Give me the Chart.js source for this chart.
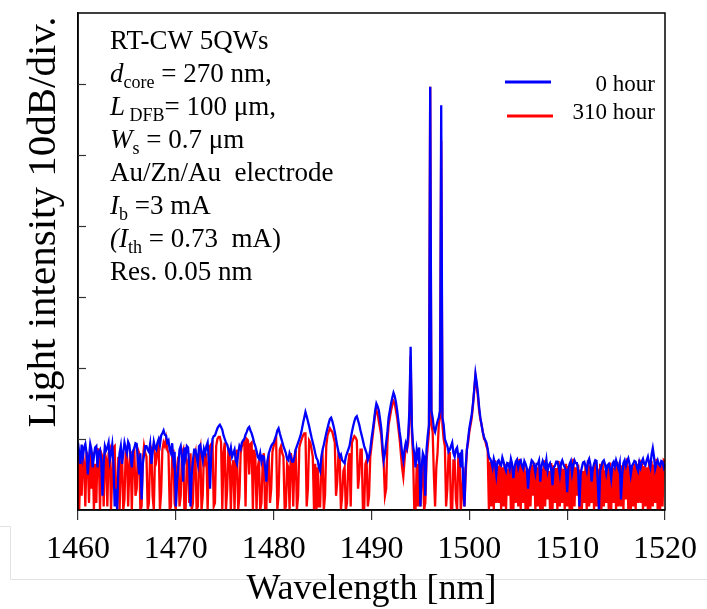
<!DOCTYPE html>
<html>
<head>
<meta charset="utf-8">
<script src="https://cdn.jsdelivr.net/npm/chart.js@4.4.1/dist/chart.umd.min.js"></script>
<style>
  html, body { margin: 0; padding: 0; background: #fff; }
  #wrap { width: 707px; height: 609px; }
</style>
</head>
<body>
<div id="wrap"><canvas id="grafico"></canvas></div>
<script>
/* --------------- datos del espectro (dB, rejilla de 0.125 nm) --------------- */

const WL_START = 1460;
const WL_STEP = 0.125;

// 0 hour  (8 muestras por nm)
const HOUR_0 = [
  9.5, 8, 6.5, 9.2, 7.5, 8.8, 9.3, 8,          // 1460
  5, 7.5, 9.3, 8.5, 6, 7.5, 8.8, 9,            // 1461
  6, 8.2, 8.5, 7, 2, 6.5, 9, 8.4,              // 1462
  8.8, 9.5, 7, 8, 9.2, 6.5, 0.5, 3,            // 1463
  0, 5.5, 8, 9, 6.5, 8, 9.5, 8.7,              // 1464
  8, 9.6, 9.2, 7.5, 6, 8.3, 8.7, 9.4,          // 1465
  9.3, 7, 5, 8, 1.5, 6.5, 7.8, 9,              // 1466
  9, 8.5, 8.2, 9.3, 6.5, 8, 9.6, 8.8,          // 1467
  8.5, 9.5, 10, 9.2, 10.5, 10.8, 11.2, 10.6,   // 1468
  10.5, 9.5, 9.8, 8.5, 8, 9.4, 7, 8.2,         // 1469
  0.5, 4, 6, 8.5, 9, 7.5, 4, 8.8,              // 1470
  7.5, 9, 8.8, 6, 0.5, 5, 7, 8.5,              // 1471
  8.5, 7.5, 6.5, 9, 9.2, 8, 7, 8.6,            // 1472
  8, 9, 9.5, 7, 3, 8, 10, 10.4,                // 1473
  10.5, 11, 11.5, 11.8, 12, 11.7, 11.3, 10.5,  // 1474
  10, 9.5, 9.2, 8.5, 8, 8.8, 7.5, 8,           // 1475
  8.5, 7, 6.5, 8, 9, 8.6, 9.5, 9.8,            // 1476
  10, 10.6, 11, 11.5, 11.7, 11.2, 10.8, 10.2,  // 1477
  9.5, 9, 8.3, 7.5, 7.2, 8, 6.8, 7.6,          // 1478
  7.5, 6, 4, 7, 8, 8.5, 9, 9.3,                // 1479
  9.5, 10, 10.5, 11.2, 11.5, 10.8, 10.2, 9.6,  // 1480
  9, 8.5, 8, 7.2, 7, 8, 7.5, 6.8,              // 1481
  6.8, 7.5, 8.5, 9, 9.5, 10, 10.5, 11.3,       // 1482
  12.2, 13, 13.8, 13.2, 12.5, 11.8, 11, 10.2,  // 1483
  9.5, 8.8, 8, 7.3, 7, 6, 5.5, 7.5,            // 1484
  8.5, 9.2, 10, 10.8, 11.5, 12.2, 12.8, 13,    // 1485
  12.5, 11.8, 11, 10, 9, 8.2, 7.5, 7.8,        // 1486
  7, 6.8, 6.6, 7.5, 8, 8.5, 9, 10,             // 1487
  11, 11.8, 12.5, 13, 13.2, 12.6, 12, 11.2,    // 1488
  10.5, 9.8, 9, 8.5, 8, 7, 7.5, 8.5,           // 1489
  10, 11.2, 12.5, 14, 15, 14.6, 14, 12.8,      // 1490
  11.5, 9, 7, 8, 9.5, 11, 13, 14,              // 1491
  15, 15.8, 16.5, 16, 15.2, 14, 12.5, 11,      // 1492
  9.8, 8, 7, 8.5, 9.4, 8.8, 10.5, 14,          // 1493
  23, 12, 9, 8, 6, 8.5, 7.5, 8.8,              // 1494
  0.5, 6, 8, 7.5, 2, 8.5, 10.5, 12,            // 1495
  59.6, 14, 13, 11.5, 11, 11.8, 12.5, 13,      // 1496
  14, 57, 13, 12, 10, 9.5, 9, 8.2,             // 1497
  8.5, 9, 9.5, 8, 7.5, 8.5, 8.8, 7.6,          // 1498
  7.8, 6, 8.5, 4, 0.5, 6, 8.5, 10,             // 1499
  11.5, 12.5, 13.5, 15, 17, 19.2, 18, 16.5,    // 1500
  14.5, 13, 12, 11, 10.3, 9.8, 9.5, 8.6,       // 1501
  7.5, 7.2, 6.8, 6, 7.2, 6.5, 5, 6.8,          // 1502
  7, 6.5, 6.3, 7.4, 6.8, 6, 5.5, 6.6,          // 1503
  6.5, 5.8, 7.2, 6.5, 4.5, 6, 6.8, 7.1,        // 1504
  6, 6.8, 7, 6.2, 5.8, 6.9, 6.5, 5.9,          // 1505
  3, 5.5, 6.2, 7, 6.8, 6.3, 5.2, 6.5,          // 1506
  6.5, 7, 4, 6.2, 6.9, 6.4, 6, 7.1,            // 1507
  5.5, 6.3, 6.6, 5.8, 3.5, 6, 6.2, 6.8,        // 1508
  6.8, 6.2, 5, 6.6, 7, 6.4, 6, 5.6,            // 1509
  2.5, 5.8, 6.5, 6.9, 5.2, 6.3, 7, 6.6,        // 1510
  6.6, 5.5, 0.5, 5, 6, 6.7, 6.8, 6.2,          // 1511
  5.5, 6.8, 7.2, 6.4, 4, 5.8, 6.5, 7,          // 1512
  6.9, 4, 0, 5.5, 6.2, 6.8, 7, 6.4,            // 1513
  5.2, 6.3, 6.5, 5.8, 4.5, 6.5, 6.8, 6.1,      // 1514
  7, 6.4, 5.8, 6.6, 1.5, 5, 6.6, 7,            // 1515
  6.2, 6.9, 7.3, 6.5, 5, 6.2, 6.5, 6.9,        // 1516
  6.8, 6, 5.5, 6.7, 6, 6.8, 7.2, 6.5,          // 1517
  6.3, 7, 7.5, 6.6, 6, 7.8, 8.7, 7.5,          // 1518
  5.8, 6.5, 7, 6.4, 6.2, 6.9, 6.8, 6,          // 1519
  6.5                                          // 1520
];

// 310 hour  (8 muestras por nm)
const HOUR_310 = [
  8.5, 0, 7, 2, 8, 6.5, 0.5, 8.2,              // 1460
  7, 1, 8.5, 3, 8.2, 0, 6.5, 1,                // 1461
  8.7, 7.5, 0, 8, 7.5, 0.5, 8, 7.2,            // 1462
  0.5, 8, 8.5, 0, 5, 8.8, 9, 1,                // 1463
  2, 7.5, 0, 6, 8.2, 0, 1.5, 8,                // 1464
  8.5, 0.5, 6, 8.3, 0, 7, 8.8, 2,              // 1465
  3, 8.5, 8, 0, 0.5, 7, 9, 8,                  // 1466
  7.5, 0, 1, 8, 8.5, 2, 0, 7.8,                // 1467
  7, 8.5, 9.2, 0, 2.5, 8.5, 9.5, 9,            // 1468
  10, 8.5, 8, 0, 0.5, 7.5, 8.5, 1,             // 1469
  0, 6, 7.5, 0.5, 2, 8, 8.5, 0,                // 1470
  0, 7, 6.5, 1, 8, 0, 1, 7.2,                  // 1471
  8, 0, 0.5, 7.8, 8.7, 0, 2, 8.3,              // 1472
  7, 8, 0, 6.5, 9, 9.3, 9.5, 0.5,              // 1473
  1, 9, 10, 10.3, 10.3, 9.5, 0, 8,             // 1474
  9.5, 0, 3, 8.5, 8, 0, 6, 7,                  // 1475
  0, 7.5, 8.5, 0, 2, 8, 9, 9.3,                // 1476
  9.8, 0.5, 10, 9.8, 5, 9.3, 9.5, 0,           // 1477
  8.5, 7.5, 0, 6, 7, 0, 1, 6.5,                // 1478
  8, 0, 0, 6.8, 7.5, 1, 3, 8.2,                // 1479
  9, 9.8, 10.2, 0, 2, 8.5, 9, 8,               // 1480
  7.5, 0, 0.5, 6.5, 6, 0, 8, 7,                // 1481
  0.5, 7, 8.5, 0, 2, 8.8, 9.5, 10,             // 1482
  10.5, 10.8, 10.8, 0.5, 3, 9.8, 9.5, 8.5,     // 1483
  7.5, 0, 6.5, 0, 6, 0.5, 0.5, 6.8,            // 1484
  7.5, 0, 2, 9, 10.5, 11, 11.5, 11.2,          // 1485
  11, 10.2, 9.5, 2, 4, 8, 7.5, 0,              // 1486
  2, 5.5, 6, 0, 1, 6.5, 8, 0.5,                // 1487
  9.5, 10, 10.4, 10.2, 9.8, 3, 5, 8.5,         // 1488
  8.5, 0, 0, 6.5, 7, 0.5, 2, 7.5,              // 1489
  9, 10.5, 12, 13.5, 14, 13.5, 12.5, 11.5,     // 1490
  10.5, 8, 6.5, 2, 3, 9.5, 12, 13,             // 1491
  14, 14.8, 15.3, 15, 14, 13, 11.5, 10,        // 1492
  8, 6, 4.7, 7, 9, 8.5, 9.5, 13,               // 1493
  21.6, 11, 7.5, 0, 0, 6.5, 0.5, 7.5,          // 1494
  0.5, 5.5, 6, 0, 1, 7, 9, 11,                 // 1495
  59.6, 12, 11, 5, 0.5, 6, 8, 12,              // 1496
  13, 52, 12, 10, 9, 0.5, 3, 8,                // 1497
  8, 0, 0, 7, 7, 1.5, 0, 7.5,                  // 1498
  7.5, 0, 2, 6, 0.5, 5, 8.5, 9.5,              // 1499
  11, 12, 13, 14.8, 16.8, 18.8, 17.5, 16,      // 1500
  14, 12.8, 12, 11, 10, 9.8, 9, 8.5,           // 1501
  0, 6.8, 0.5, 6.5, 0, 7, 1, 6.2,              // 1502
  1, 6.5, 0, 6, 0.5, 6.5, 0, 5.8,              // 1503
  2, 6.8, 0, 6.3, 0, 6, 1, 6.6,                // 1504
  0.5, 7.2, 0, 6.5, 1, 6.2, 0, 5.5,            // 1505
  0, 5.8, 0.5, 6.4, 2, 6.7, 0, 6,              // 1506
  0.5, 6.5, 0, 5.8, 0, 7, 0.5, 6.2,            // 1507
  1.5, 5.5, 0, 6.6, 0, 6.3, 1, 5.9,            // 1508
  0, 6.9, 0.5, 6, 1, 5.8, 0, 6.5,              // 1509
  0.5, 6.2, 0, 6.8, 0, 7.2, 0.5, 6,            // 1510
  2, 6.4, 0, 5.7, 0, 5.5, 1, 6.3,              // 1511
  0, 7, 0.5, 6.2, 1, 6, 0, 6.6,                // 1512
  0.5, 5.8, 0, 6.5, 0, 6.8, 0.5, 5.6,          // 1513
  1, 6.2, 0, 6.7, 0, 5.9, 1, 6.4,              // 1514
  0, 6.8, 0.5, 6, 0.5, 6.3, 0, 6.9,            // 1515
  1.5, 7.3, 0, 6.2, 0, 6, 0.5, 6.5,            // 1516
  0, 6.5, 1, 7.1, 1, 7, 0, 6.2,                // 1517
  0.5, 6, 0, 6.6, 0, 6.9, 0.5, 6.4,            // 1518
  1, 7.2, 0, 6.3, 0, 6.5, 0.5, 7,              // 1519
  6.8                                          // 1520
];

const SERIES_LABELS = ['0 hour', '310 hour'];
const X_TICKS = [1460, 1470, 1480, 1490, 1500, 1510, 1520];
const Y_TICKS = [10, 20, 30, 40, 50, 60];   // 10 dB/div, sin etiquetas
const Y_TITLE = 'Light intensity 10dB/div.';

// texto de condiciones: [texto, estilo] n = normal, i = cursiva, s = subindice
const NOTE_LINES = [
  [['RT-CW 5QWs', 'n']],
  [['d', 'i'], ['core', 's'], [' = 270 nm,', 'n']],
  [['L', 'i'], [' DFB', 's'], ['= 100 \u03bcm,', 'n']],
  [['W', 'i'], ['s', 's'], [' = 0.7 \u03bcm', 'n']],
  [['Au/Zn/Au  electrode', 'n']],
  [['I', 'i'], ['b', 's'], [' =3 mA', 'n']],
  [['(', 'i'], ['I', 'i'], ['th', 's'], [' = 0.73  mA)', 'n']],
  [['Res. 0.05 nm', 'n']]
];

const SERIF = '"Liberation Serif", "Times New Roman", serif';

/* --------------- configuracion del grafico --------------- */

document.addEventListener('DOMContentLoaded', () => {

    const toPoints = (arr) => arr.map((v, i) => ({ x: WL_START + i * WL_STEP, y: v }));

    function drawRich(ctx, x, y, parts, size) {
        parts.forEach(([txt, st]) => {
            const sub = st === 's';
            const fs = sub ? Math.round(size * 0.66) : size;
            ctx.font = (st === 'i' ? 'italic ' : '') + fs + 'px ' + SERIF;
            ctx.fillText(txt, x, sub ? y + size * 0.22 : y);
            x += ctx.measureText(txt).width;
        });
    }

    const decoracion = {
        id: 'decoracion',
        beforeDraw(chart) {
            // recuadro gris tenue alrededor de las etiquetas del eje x
            const { ctx } = chart;
            ctx.save();
            ctx.strokeStyle = '#e2e2e2';
            ctx.lineWidth = 1;
            ctx.beginPath();
            ctx.moveTo(0, 526.5);
            ctx.lineTo(10.5, 526.5);
            ctx.lineTo(10.5, 579.5);
            ctx.lineTo(707, 579.5);
            ctx.stroke();
            ctx.restore();
        },
        afterDraw(chart) {
            const { ctx, chartArea: a, scales } = chart;
            ctx.save();

            // marco completo
            ctx.strokeStyle = '#000';
            ctx.lineWidth = 1.5;
            ctx.strokeRect(a.left, a.top, a.right - a.left, a.bottom - a.top);

            // marcas del eje y hacia dentro
            ctx.strokeStyle = '#333';
            ctx.lineWidth = 1.2;
            Y_TICKS.forEach(v => {
                const y = Math.round(scales.y.getPixelForValue(v)) + 0.5;
                ctx.beginPath();
                ctx.moveTo(a.left, y);
                ctx.lineTo(a.left + 8, y);
                ctx.stroke();
            });

            // titulo del eje y (desplazado hacia arriba como en el original)
            ctx.fillStyle = '#000';
            ctx.font = '41px ' + SERIF;
            ctx.textAlign = 'center';
            ctx.textBaseline = 'alphabetic';
            ctx.translate(55, 222);
            ctx.rotate(-Math.PI / 2);
            ctx.fillText(Y_TITLE, 0, 0);
            ctx.setTransform(1, 0, 0, 1, 0, 0);

            // leyenda
            const legY = [82, 116];
            const legX = [[505, 551], [507, 553]];
            const txtY = [85, 113];
            ctx.font = '23px ' + SERIF;
            ctx.textAlign = 'right';
            ctx.textBaseline = 'middle';
            chart.data.datasets.forEach((ds, i) => {
                ctx.strokeStyle = ds.borderColor;
                ctx.lineWidth = 3;
                ctx.beginPath();
                ctx.moveTo(legX[i][0], legY[i]);
                ctx.lineTo(legX[i][1], legY[i]);
                ctx.stroke();
                ctx.fillStyle = '#000';
                ctx.fillText(ds.label, 655, txtY[i]);
            });

            // bloque de condiciones
            ctx.textAlign = 'left';
            ctx.textBaseline = 'alphabetic';
            ctx.fillStyle = '#000';
            NOTE_LINES.forEach((parts, i) => {
                drawRich(ctx, 110, 49 + i * 33, parts, 27);
            });

            ctx.restore();
        }
    };

    const data = {
        datasets: [
            {
                label: SERIES_LABELS[0],
                data: toPoints(HOUR_0),
                borderColor: '#0000ff',
                borderWidth: 2.3,
                pointRadius: 0,
                tension: 0
            },
            {
                label: SERIES_LABELS[1],
                data: toPoints(HOUR_310),
                borderColor: '#ff0000',
                borderWidth: 2.3,
                pointRadius: 0,
                tension: 0
            }
        ]
    };

    const config = {
        responsive: true,
        maintainAspectRatio: false,
        devicePixelRatio: 1,
        animation: false,
        layout: { padding: { top: 13, right: 42, left: 0, bottom: 0 } },
        plugins: {
            legend: { display: false },
            tooltip: { enabled: false }
        },
        scales: {
            x: {
                type: 'linear',
                min: 1460,
                max: 1520,
                afterFit: (s) => { s.height = 99; },
                afterBuildTicks: (s) => { s.ticks = X_TICKS.map(v => ({ value: v })); },
                ticks: {
                    color: '#000',
                    padding: 10,
                    maxRotation: 0,
                    font: { family: SERIF, size: 32 },
                    callback: (v) => String(v)
                },
                grid: {
                    drawOnChartArea: false,
                    drawTicks: true,
                    tickLength: 10,
                    color: '#333',
                    lineWidth: 1.2
                },
                border: { display: true, color: '#000', width: 1.5 },
                title: {
                    display: true,
                    text: 'Wavelength [nm]',
                    color: '#000',
                    font: { family: SERIF, size: 36, lineHeight: 1 },
                    padding: { top: 0, bottom: 1 }
                }
            },
            y: {
                min: 0,
                max: 70,
                afterFit: (s) => { s.width = 78; },
                ticks: { display: false, stepSize: 10 },
                grid: { display: false },
                border: { display: true, color: '#000', width: 1.5 },
                title: { display: false }
            }
        }
    };

    new Chart(document.getElementById('grafico'), {
        type: 'line',
        data: data,
        options: config,
        plugins: [decoracion]
    });
});
</script>
</body>
</html>
